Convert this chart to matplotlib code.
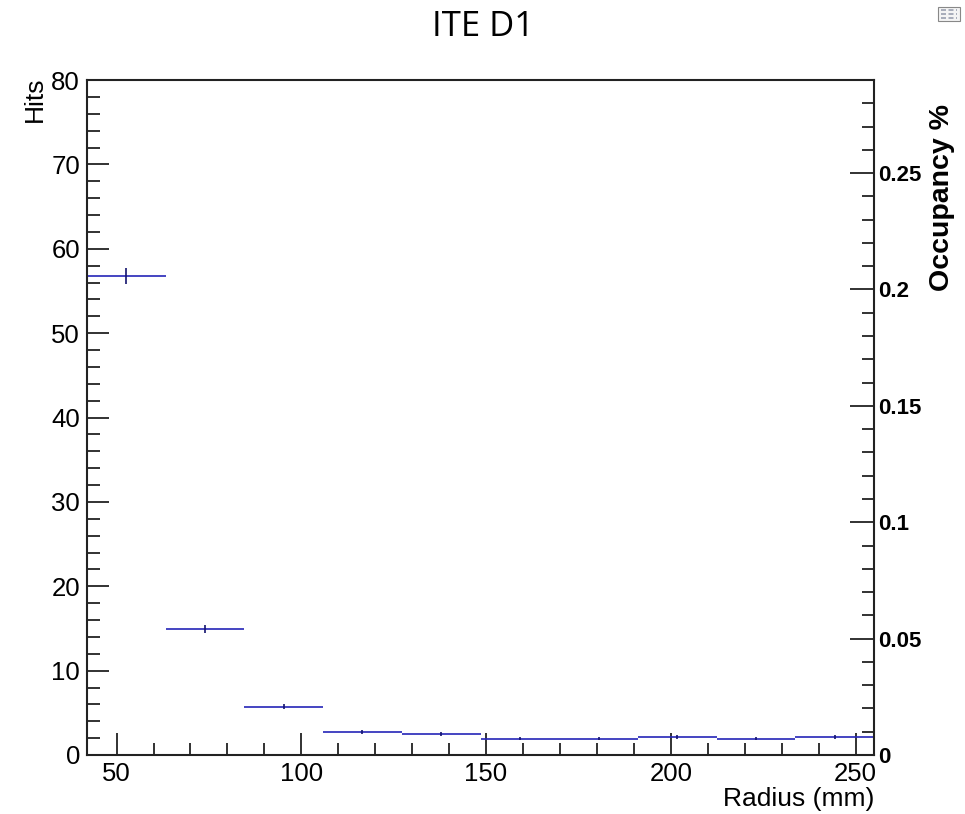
import matplotlib
matplotlib.use("Agg")
import matplotlib.pyplot as plt
from matplotlib.ticker import MultipleLocator
from matplotlib.patches import Rectangle
from matplotlib.lines import Line2D
import numpy as np

# ---- data ----
bin_edges = [42.0, 63.3, 84.6, 105.9, 127.2, 148.5, 169.8, 191.1, 212.4, 233.7, 255.0]
hits = [56.8, 14.9, 5.7, 2.75, 2.45, 1.93, 1.93, 2.13, 1.93, 2.13]
hit_err = [0.95, 0.45, 0.3, 0.25, 0.25, 0.2, 0.2, 0.2, 0.2, 0.2]
x_ticks = [50, 100, 150, 200, 250]
y_ticks = [0, 10, 20, 30, 40, 50, 60, 70, 80]
occ_ticks = [0, 0.05, 0.1, 0.15, 0.2, 0.25]
occ_labels = ["0", "0.05", "0.1", "0.15", "0.2", "0.25"]
occ_max = 0.29
title = "ITE D1"

W, H = 965, 814
fig = plt.figure(figsize=(W / 100, H / 100), dpi=100)
L, R, B, T = 87, 874, 755, 80
ax = fig.add_axes([L / W, 1 - B / H, (R - L) / W, (B - T) / H])

font = "Liberation Sans"
line_col = "#2525b8"
err_col = "#14146e"

edges = np.array(bin_edges)
centers = (edges[:-1] + edges[1:]) / 2
vals = np.array(hits)
errs = np.array(hit_err)
ax.hlines(vals, edges[:-1], edges[1:], colors=line_col, linewidth=1.2)
ax.vlines(centers, vals - errs, vals + errs, colors=err_col, linewidth=1.2)

ax.set_xlim(bin_edges[0], bin_edges[-1])
ax.set_ylim(0, 80)

# frame
for s in ["left", "bottom", "top"]:
    ax.spines[s].set_linewidth(1.5)
    ax.spines[s].set_color("#222222")
ax.spines["right"].set_visible(False)

ax.set_xticks(x_ticks)
ax.set_yticks(y_ticks)
ax.xaxis.set_minor_locator(MultipleLocator(10))
ax.yaxis.set_minor_locator(MultipleLocator(2))
ax.tick_params(axis="both", which="major", direction="in", length=16, width=1.3,
               color="#222222", labelsize=18.5, pad=5)
ax.tick_params(axis="both", which="minor", direction="in", length=9, width=1.3,
               color="#222222")
ax.tick_params(top=False, right=False, which="both")
for lab in ax.get_xticklabels() + ax.get_yticklabels():
    lab.set_fontfamily(font)

# right axis (occupancy)
ax2 = ax.twinx()
ax2.set_ylim(0, occ_max)
for s in ["left", "top", "bottom"]:
    ax2.spines[s].set_visible(False)
ax2.spines["right"].set_linewidth(1.5)
ax2.spines["right"].set_color("#222222")
ax2.set_yticks(occ_ticks)
ax2.set_yticklabels(occ_labels)
ax2.yaxis.set_minor_locator(MultipleLocator(0.01))
ax2.tick_params(axis="y", which="major", direction="in", length=17, width=1.3,
                color="#222222", labelsize=16, pad=3)
ax2.tick_params(axis="y", which="minor", direction="in", length=9, width=1.3, color="#222222")
for lab in ax2.get_yticklabels():
    lab.set_fontfamily(font)
    lab.set_fontweight("bold")

# labels
fig.text(483 / W, 1 - 27 / H, title, ha="center", va="center",
         fontsize=25, fontfamily="Open Sans")
fig.text(35 / W, 1 - 77 / H, "Hits", rotation=90, ha="center", va="top",
         fontsize=19, fontfamily=font)
fig.text(874 / W, 1 - 811 / H, "Radius (mm)", ha="right", va="bottom",
         fontsize=19, fontfamily=font)
fig.text(942 / W, 1 - 104 / H, "Occupancy %", rotation=90, ha="center", va="top",
         fontsize=20.5, fontweight="bold", fontfamily=font)

# small icon top-right
fig.add_artist(Rectangle((938 / W, 1 - 21 / H), 22 / W, 14 / H, transform=fig.transFigure,
                         facecolor="#f4f4f4", edgecolor="#888888", linewidth=0.8))
for yy in [10, 14, 18]:
    fig.add_artist(Line2D([941 / W, 957 / W], [1 - yy / H, 1 - yy / H], transform=fig.transFigure,
                          color="#9aa0b0", linewidth=1.2, linestyle=(0, (3, 1.5))))

fig.savefig("out.png", dpi=100)
